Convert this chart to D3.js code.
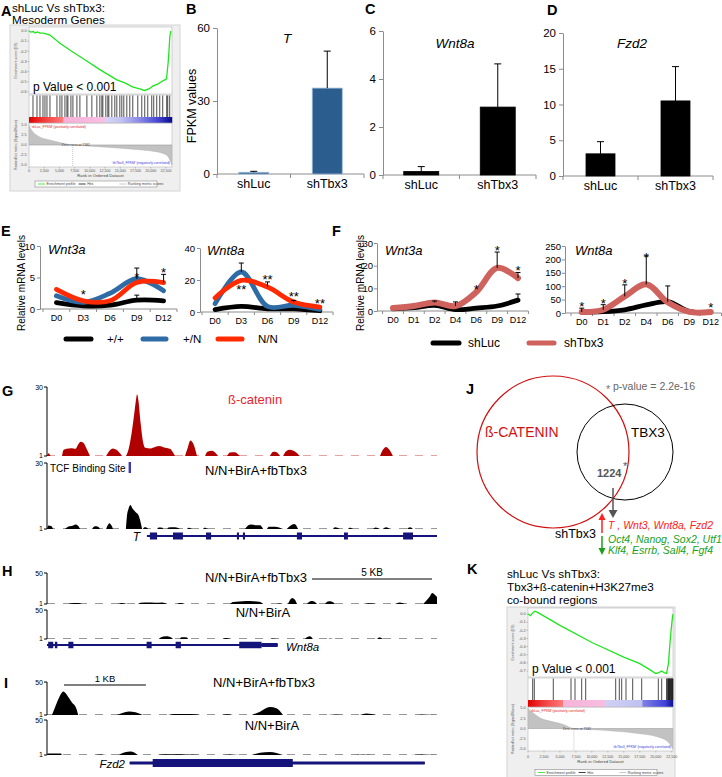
<!DOCTYPE html>
<html><head><meta charset="utf-8">
<script src="https://cdn.jsdelivr.net/npm/d3@7/dist/d3.min.js"></script>
<style>html,body{margin:0;padding:0;background:#fff;}svg{display:block;}</style>
</head><body>
<svg id="fig" width="722" height="777" xmlns="http://www.w3.org/2000/svg"></svg>
<script>
// ================= DATA =================
// A : GSEA shLuc vs shTbx3, mesoderm genes
const gseaAEsRank = [0,300,700,1000,1400,1800,2400,3440,5084,7000,8856,11644,14432,15744,17000,18200,19000,19700,20400,21200,22000,22600,22870,23000,23150,23300];
const gseaAEs     = [0,-0.01,-0.005,-0.02,-0.01,-0.02,-0.02,-0.04,-0.12,-0.2,-0.27,-0.38,-0.48,-0.51,-0.55,-0.57,-0.585,-0.57,-0.54,-0.52,-0.49,-0.47,-0.31,-0.2,-0.05,0];
const gseaAHits = [656,1312,1804,2296,2624,2952,3444,4592,5084,5412,5904,6232,6396,6888,7216,7872,8364,9512,10332,11152,11644,11972,12136,12628,12956,13120,13612,14104,14432,14924,15252,15580,16072,16564,17056,17876,18532,19024,19516,20172,20500,20992,21484,21976,22632,22796,23124];
const gseaAMetricRank = [0,250,650,1800,3450,5100,7182,10000,14900,18000,20500,22000,22800,23200,23500];
const gseaAMetric     = [5,4.2,3.3,2.0,1.25,0.6,0,-0.3,-0.8,-1.2,-1.6,-2.1,-2.8,-4,-5];
const gseaAColorRank = [0,2000,5600,5700,12400,12600,15000,18000,21000,23500];
const gseaAColor = ["#dd0000","#f03030","#ff7a7a","#f7b0d8","#f8c0e2","#d4d4f6","#c4c4f2","#8c8ce6","#4a4ad6","#0a0a8c"];
const gseaAEsTicks = [0,-0.1,-0.2,-0.3,-0.4,-0.5,-0.6];
// K : GSEA co-bound regions
const gseaKEsRank = [0,400,800,1100,1500,5000,10000,15000,17500,19000,20000,20500,20900,21300,21700,22000,22200,22400,22600,22700];
const gseaKEs     = [0,-0.02,0.02,0.035,0.02,-0.14,-0.35,-0.53,-0.61,-0.68,-0.73,-0.72,-0.7,-0.72,-0.73,-0.6,-0.38,-0.2,-0.05,0];
const gseaKHits = [736,986,3960,6732,7358,8407,9033,13730,14293,14669,15342,16391,17800,20399,20931,21700,21800,21917,22000,22073,22150,22230,22300,22386,22460,22543,22620,22690];
const gseaKMetricRank = [0,210,835,1880,3450,5530,7182,12300,17500,20150,21700,22300,22700];
const gseaKMetric     = [5,4.5,3.8,2.6,1.8,1.0,0,-0.5,-1.3,-2.0,-3.0,-4,-5];
const gseaKColorRank = [0,2500,5400,5500,12100,12300,17800,18000,21500,22700];
const gseaKColor = ["#e00000","#f04040","#ff7878","#f7b3da","#f7bde0","#d0d0f5","#c0c0f2","#8080e6","#4040d8","#101090"];
const gseaKEsTicks = [0,-0.1,-0.2,-0.3,-0.4,-0.5,-0.6,-0.7];
const gseaRankTicks = [0,2500,5000,7500,10000,12500,15000,17500,20000,22500];
const gseaMetricTicks = [5,2.5,0,-2.5,-5];
const gseaZeroCross = 7182;

// B-D : FPKM values
const barCategories = ["shLuc","shTbx3"];
const tFpkm = [0.7,35.3],      tFpkmErr = [0.4,15.2];
const wnt8aFpkm = [0.15,2.83], wnt8aFpkmErr = [0.2,1.8];
const fzd2Fpkm = [3.1,10.5],   fzd2FpkmErr = [1.7,4.8];
const tTicks = [0,30,60], wnt8aTicks = [0,2,4,6], fzd2Ticks = [0,5,10,15,20];

// E : relative mRNA, genotypes
const eDays = ["D0","D3","D6","D9","D12"];
const eGenotypes = ["+/+","+/N","N/N"];
const eWnt3a    = [[1.0,0.5,0.6,1.4,1.3],[2.1,1.05,2.5,4.8,2.9],[3.1,1.3,1.3,4.2,4.2]];
const eWnt3aErr = [[0,0,0,0.8,0],[0,0,0,1.7,0],[0,0,0,0,1.3]];
const eWnt3aStars = [["D3",2.7,"*"],["D9",5.4,"*"],["D12",6.2,"*"]];
const eWnt3aTicks = [0,5,10];
const eWnt8a    = [[1.5,3.5,2,2,0.8],[5.2,25,3.5,4.2,1.7],[8.8,19.8,15.6,6.2,3.1]];
const eWnt8aErr = [[0,0,0,0,0],[0,5.6,0,0,0],[0,0,3.2,1.1,0]];
const eWnt8aStars = [["D3",15.6,"**"],["D6",21.9,"**"],["D9",11.5,"**"],["D12",6.7,"**"]];
const eWnt8aTicks = [0,20,40];

// F : relative mRNA, knockdown
const fDays = ["D0","D1","D2","D4","D6","D9","D12"];
const fGroups = ["shLuc","shTbx3"];
const fWnt3a    = [[1,1.5,2.5,0.6,1.3,2.2,4.8],[1.3,2.2,3.8,2.2,8.4,19,14.5]];
const fWnt3aErr = [[0,0,0,0,0,0,2.7],[0,0,0.6,1.8,0,7,2.5]];
const fWnt3aStars = [["D6",10.6,"*"],["D9",27.8,"*"],["D12",19,"*"]];
const fWnt3aTicks = [0,10,20,30];
const fWnt8a    = [[3,5,12,30,42,6,2],[4,12,62,107,40,4,4]];
const fWnt8aErr = [[0,0,0,0,59,0,0],[14,19,43,106,0,0,0]];
const fWnt8aStars = [["D0",33,"*"],["D1",43,"*"],["D2",119,"*"],["D4",218,"*"],["D12",31,"*"]];
const fWnt8aTicks = [0,50,100,150,200,250];

// G : T locus (kb), ChIP-seq tracks
const gBetaCatPeaks = [
 [[0,1],[0.05,2.2],[0.12,1]],
 [[0.5,1],[0.55,3.5],[0.65,4],[0.8,4.3],[0.95,4],[1.05,6],[1.12,7],[1.22,6.5],[1.32,4],[1.43,1]],
 [[1.97,1],[2.07,3],[2.2,4.2],[2.32,3.6],[2.5,1]],
 [[2.63,1],[2.7,3],[2.8,9],[2.9,18],[2.97,25],[3.0,27],[3.05,24],[3.12,15],[3.2,7],[3.27,4.5],[3.45,4.2],[3.6,4.8],[3.75,5.2],[3.9,4.6],[4.1,4],[4.2,2.5],[4.27,1]],
 [[4.6,1],[4.68,4],[4.78,7.5],[4.88,6],[5.0,1]],
 [[5.27,1],[5.35,2.8],[5.5,3.2],[5.6,2.5],[5.7,1]],
 [[6.0,1],[6.1,2.5],[6.25,2.6],[6.43,1]],
 [[7.43,1],[7.55,2.8],[7.65,2.6],[7.77,1]],
 [[7.87,1],[7.97,3],[8.1,3.6],[8.25,3],[8.43,1]],
 [[11.1,1],[11.22,4],[11.3,4.8],[11.42,3.5],[11.53,1]]
];
const gTbx3Peaks = [
 [[0,1],[0.05,2.5],[0.15,2.2],[0.2,1]],
 [[0.6,1],[0.7,2],[0.85,2.4],[0.95,3],[1.05,2.2],[1.1,1]],
 [[1.5,1],[1.6,2.2],[1.7,2],[1.77,1]],
 [[1.97,1],[2.02,2.5],[2.08,3.5],[2.15,2.5],[2.2,1]],
 [[2.63,1],[2.66,6],[2.72,10],[2.78,11.5],[2.85,10],[2.95,8.5],[3.05,7],[3.12,4],[3.17,1]],
 [[3.2,1],[3.25,1.8],[3.33,1.6],[3.37,1]],
 [[3.67,1],[3.72,1.7],[3.85,1.6],[3.87,1]],
 [[4.0,1],[4.05,1.7],[4.2,1.8],[4.35,1.6],[4.43,1]],
 [[4.67,1],[4.72,1.5],[4.83,1]],
 [[5.2,1],[5.25,1.6],[5.37,1]],
 [[6.6,1],[6.7,2.5],[6.8,3],[6.95,2.7],[7.1,2.6],[7.2,1]],
 [[7.33,1],[7.4,2],[7.6,2],[7.87,1]],
 [[8.0,1],[8.1,2.3],[8.25,3.2],[8.37,1]],
 [[9.53,1],[9.6,1.8],[9.77,1]],
 [[10.03,1],[10.1,1.6],[10.2,1]],
 [[10.87,1],[10.95,1.7],[11.1,1]],
 [[11.2,1],[11.3,1.8],[11.43,1]],
 [[12.0,1],[12.1,1.8],[12.2,1]]
];
const gGeneSpan = [3.33,13];
const gGeneExons = [[3.43,3.67],[4.2,4.53],[5.3,5.47],[6.33,6.4],[6.53,6.6],[8.33,8.5],[9.9,10.03],[11.87,12.2]];
const gTcfSite = [2.72,2.8];
const gViewKb = 13;

// H : Wnt8a locus
const hTbx3Peaks = [
 [[0.88,1],[1.1,2.6],[1.3,2.4],[1.46,1]],
 [[2.96,1],[3.1,2.6],[3.33,1]],
 [[3.79,1],[3.9,3],[4.2,3.2],[4.5,3],[4.8,3.4],[5.0,1]],
 [[5.42,1],[5.55,2.4],[5.75,1]],
 [[7.63,1],[7.75,4],[8.0,5],[8.3,5.7],[8.6,5.5],[8.85,4.5],[9.0,1]],
 [[9.58,1],[9.7,2.2],[9.83,1]],
 [[10.04,1],[10.12,7],[10.22,10.5],[10.32,8],[10.42,1]],
 [[10.83,1],[10.95,5],[11.05,5.7],[11.15,4.5],[11.25,1]],
 [[11.58,1],[11.7,5],[11.8,5.5],[11.9,4],[12.0,1]],
 [[13.17,1],[13.4,2.2],[13.75,1]],
 [[14.5,1],[14.7,3.4],[14.92,1]],
 [[15.67,1],[15.8,6],[15.95,13],[16.05,18.4],[16.2,14],[16.25,12]]
];
const hBirAPeaks = [
 [[4.67,1],[4.75,4],[4.95,5.5],[5.1,5],[5.25,1]],
 [[5.54,1],[5.6,4],[5.8,4],[5.88,1]],
 [[7.33,1],[7.45,2.5],[7.63,1]],
 [[9.29,1],[9.4,2],[9.58,1]],
 [[10.75,1],[10.85,4.5],[10.95,5.5],[11.08,1]],
 [[11.71,1],[11.8,2],[11.92,1]],
 [[13.75,1],[13.85,3.4],[14.0,1]]
];
const hGeneSpan = [0,9.61];
const hGeneExons = [[0.05,0.26],[0.33,0.43],[0.89,1.1],[4.15,4.36],[5.36,5.58],[8.01,8.94]];
const hGeneUtr = [8.94,9.61];
const hViewKb = 16.25;
const hScaleKb = 5;

// I : Fzd2 locus
const iTbx3Peaks = [
 [[0.06,1],[0.09,10],[0.13,22],[0.18,34],[0.2,36],[0.23,33],[0.27,26],[0.31,19],[0.35,13],[0.37,6],[0.38,1]],
 [[0.85,1],[0.92,4],[1.0,6.2],[1.08,5],[1.17,1]],
 [[1.48,1],[1.55,2.5],[1.75,2.3],[1.87,1]],
 [[2.13,1],[2.2,2.2],[2.27,1]],
 [[2.5,1],[2.6,6],[2.72,12.9],[2.8,11],[2.88,1]],
 [[3.43,1],[3.5,1.8],[3.61,1]],
 [[3.82,1],[3.9,3.2],[4.02,1]],
 [[4.52,1],[4.6,1.7],[4.75,1]]
];
const iBirAPeaks = [
 [[0,1],[0.01,3],[0.17,3],[0.18,1]],
 [[0.59,1],[0.65,1.7],[0.73,1]],
 [[0.87,1],[0.95,5],[1.02,6],[1.11,1]],
 [[1.35,1],[1.45,2],[1.6,2],[1.87,1]],
 [[2.15,1],[2.25,1.7],[2.35,1]],
 [[2.5,1],[2.6,4],[2.72,5.2],[2.88,1]],
 [[3.76,1],[3.86,1.7],[3.96,1]],
 [[4.43,1],[4.6,1.7],[4.75,1]]
];
const iGeneSpan = [1.01,4.61];
const iGeneExon = [1.29,3.0];
const iViewKb = 4.76;
const iScaleKb = 1;

// J : overlap
const jOverlap = 1224;
const jPValue = "2.2e-16";
const jUpGenes = ["T ","Wnt3","Wnt8a","Fzd2"];
const jDownGenes1 = ["Oct4","Nanog","Sox2","Utf1"];
const jDownGenes2 = ["Klf4","Esrrb","Sall4","Fgf4"];

// ================= DRAWING =================
const FONT = "'Liberation Sans', Arial, Helvetica, sans-serif";
const svg = d3.select("#fig").attr("font-family", FONT);

function txt(x, y, s, o = {}) {
  const t = (o.g || svg).append("text").attr("x", x).attr("y", y).text(s)
    .attr("font-size", o.size || 12).attr("fill", o.fill || "#000")
    .attr("text-anchor", o.anchor || "start");
  if (o.italic) t.attr("font-style", "italic");
  if (o.bold) t.attr("font-weight", "bold");
  if (o.rotate) t.attr("transform", `rotate(-90 ${x} ${y})`);
  return t;
}

// ---- panel letters
[["A",1,16],["B",186,14],["C",365,14],["D",547,15],["E",1,236],["F",332,236],
 ["G",2,396],["H",2,576],["I",4,688],["J",466,394],["K",467,574]]
 .forEach(d => txt(d[1], d[2], d[0], {size: 14.5, bold: true}));

// ---- GSEA
function gsea(o, esRank, es, hits, mRank, mVal, cRank, cCol, esTicks) {
  const g = svg.append("g");
  const x = d3.scaleLinear().domain([0, o.maxRank]).range([o.x0, o.x1]);
  const yE = d3.scaleLinear().domain([0, esTicks[esTicks.length-1]]).range([o.es0, o.esLowY]);
  const yM = d3.scaleLinear().domain([-5, 5]).range([o.mLow, o.mHigh]);
  g.append("rect").attr("x", o.bx).attr("y", o.by).attr("width", o.bw).attr("height", o.bh)
    .attr("fill", "#efefef").attr("stroke", "#d4d4d4");
  g.append("rect").attr("x", o.x0).attr("y", o.esTop).attr("width", o.x1 - o.x0)
    .attr("height", o.mBottom - o.esTop).attr("fill", "#fff");
  const frame = (t, b) => g.append("rect").attr("x", o.x0).attr("y", t).attr("width", o.x1 - o.x0)
    .attr("height", b - t).attr("fill", "none").attr("stroke", "#b5b5b5").attr("stroke-width", 0.6);
  // ES
  frame(o.esTop, o.esBottom);
  esTicks.forEach(v => {
    g.append("line").attr("x1", o.x0 - 1.5).attr("x2", o.x0).attr("y1", yE(v)).attr("y2", yE(v)).attr("stroke", "#888").attr("stroke-width", 0.5);
    txt(o.x0 - 2.5, yE(v) + 1.3, v.toFixed(1), {g, size: 3.8, anchor: "end", fill: "#555"});
  });
  g.append("path").datum(d3.zip(esRank, es))
    .attr("d", d3.line().x(d => x(d[0])).y(d => yE(d[1])))
    .attr("fill", "none").attr("stroke", "#1ee61e").attr("stroke-width", 1.3);
  txt(o.bx + 6.5, (o.esTop + o.esBottom) / 2, "Enrichment score (ES)", {g, size: 3.6, anchor: "middle", rotate: true, fill: "#555"});
  // hits
  frame(o.hitsTop, o.cbBottom);
  g.selectAll("line.hit").data(hits).join("line").attr("class", "hit")
    .attr("x1", d => x(d)).attr("x2", d => x(d)).attr("y1", o.hitsTop + 0.5).attr("y2", o.cbTop)
    .attr("stroke", "#111").attr("stroke-width", 0.75);
  // colour bar
  const cs = d3.scaleLinear().domain(cRank).range(cCol);
  g.selectAll("rect.cb").data(d3.range(o.x0, o.x1, 1)).join("rect").attr("class", "cb")
    .attr("x", d => d).attr("width", 1.2).attr("y", o.cbTop).attr("height", o.cbBottom - o.cbTop)
    .attr("fill", d => cs(x.invert(d + 0.5)));
  // metric
  frame(o.mTop, o.mBottom);
  g.append("path").datum(d3.zip(mRank, mVal))
    .attr("d", d3.area().x(d => x(d[0])).y0(yM(0)).y1(d => yM(d[1])).curve(d3.curveMonotoneX))
    .attr("fill", "#c2c2c2").attr("stroke", "#a8a8a8").attr("stroke-width", 0.3);
  g.append("line").attr("x1", o.x0).attr("x2", o.x1).attr("y1", yM(0)).attr("y2", yM(0)).attr("stroke", "#999").attr("stroke-width", 0.4);
  g.append("line").attr("x1", x(gseaZeroCross)).attr("x2", x(gseaZeroCross)).attr("y1", yM(0)).attr("y2", o.mBottom)
    .attr("stroke", "#888").attr("stroke-width", 0.5).attr("stroke-dasharray", "1,1");
  txt(x(gseaZeroCross) + 3, yM(0) + 1.4, "Zero cross at " + gseaZeroCross, {g, size: 3.4, anchor: "middle", fill: "#444"});
  gseaMetricTicks.forEach(v => txt(o.x0 - 2.5, yM(v) + 1.3, v.toFixed(1), {g, size: 3.8, anchor: "end", fill: "#555"}));
  txt(o.x0 + 2, o.mTop + 5, "'shLuc_FPKM' (positively correlated)", {g, size: 3.4, fill: "#e02020"});
  txt(o.x1 - 2, o.mBottom - 3, "'shTbx3_FPKM' (negatively correlated)", {g, size: 3.4, fill: "#3a3ae0", anchor: "end"});
  txt(o.bx + 6.5, (o.mTop + o.mBottom) / 2, "Ranked list metric (Signal2Noise)", {g, size: 3.4, anchor: "middle", rotate: true, fill: "#555"});
  gseaRankTicks.forEach(v => {
    g.append("line").attr("x1", x(v)).attr("x2", x(v)).attr("y1", o.mBottom).attr("y2", o.mBottom + 1.5).attr("stroke", "#888").attr("stroke-width", 0.5);
    txt(x(v), o.xLabY, d3.format(",")(v), {g, size: 3.6, anchor: "middle", fill: "#555"});
  });
  txt((o.x0 + o.x1) / 2, o.xTitleY, "Rank in Ordered Dataset", {g, size: 4.2, anchor: "middle", fill: "#444"});
  // legend
  g.append("rect").attr("x", o.legX0).attr("y", o.legY).attr("width", o.legX1 - o.legX0).attr("height", 6)
    .attr("fill", "#fff").attr("stroke", "#777").attr("stroke-width", 0.5);
  const legItems = [["Enrichment profile", "#1ee61e"], ["Hits", "#111"], ["Ranking metric scores", "#bbb"]];
  const lw = (o.legX1 - o.legX0) / 3;
  legItems.forEach((it, i) => {
    const lx = o.legX0 + 3 + i * lw;
    g.append("line").attr("x1", lx).attr("x2", lx + 7).attr("y1", o.legY + 3).attr("y2", o.legY + 3).attr("stroke", it[1]).attr("stroke-width", 0.8);
    txt(lx + 8.5, o.legY + 4.3, it[0], {g, size: 3.6, fill: "#444"});
  });
  txt(o.x0 + 4, o.pY, "p Value < 0.001", {g, size: 12});
}

txt(12, 12, "shLuc Vs shTbx3:", {size: 11.7});
txt(12, 23.5, "Mesoderm Genes", {size: 11.7});
gsea({bx:10, by:25, bw:170, bh:166, x0:29, x1:172, maxRank:23500, es0:31, esLowY:92, esTop:27, esBottom:94,
      hitsTop:95, cbTop:117, cbBottom:123, mTop:123, mHigh:125, mLow:165, mBottom:167,
      xLabY:171.5, xTitleY:176.5, legX0:35, legX1:157, legY:181, pY:91},
     gseaAEsRank, gseaAEs, gseaAHits, gseaAMetricRank, gseaAMetric, gseaAColorRank, gseaAColor, gseaAEsTicks);

txt(507, 578, "shLuc Vs shTbx3:", {size: 11.7});
txt(507, 591, "Tbx3+ß-catenin+H3K27me3", {size: 11.7});
txt(507, 603.5, "co-bound regions", {size: 11.7});
gsea({bx:507, by:607, bw:168, bh:175, x0:528, x1:673, maxRank:22700, es0:614, esLowY:671, esTop:608, esBottom:677,
      hitsTop:678, cbTop:700, cbBottom:707, mTop:707, mHigh:708, mLow:749, mBottom:751,
      xLabY:757.5, xTitleY:763, legX0:535, legX1:657, legY:769.5, pY:673},
     gseaKEsRank, gseaKEs, gseaKHits, gseaKMetricRank, gseaKMetric, gseaKColorRank, gseaKColor, gseaKEsTicks);

// ---- bar charts
function barChart(o, values, errs, ticks, title) {
  const g = svg.append("g");
  const x = d3.scalePoint().domain(barCategories).range([o.x0, o.x1]).padding(0.5);
  const y = d3.scaleLinear().domain([0, d3.max(ticks)]).range([o.yBase, o.yTop]);
  const ax = g.append("g").attr("transform", `translate(${o.x0},0)`)
    .call(d3.axisLeft(y).tickValues(ticks).tickFormat(d3.format("d")).tickSize(4).tickSizeOuter(0).tickPadding(3));
  ax.attr("font-family", FONT).attr("font-size", 11.5);
  ax.selectAll("path,line").attr("stroke", "#8c8c8c");
  ax.selectAll("text").attr("fill", "#000");
  g.append("line").attr("x1", o.x0).attr("x2", o.x1).attr("y1", o.yBase).attr("y2", o.yBase).attr("stroke", "#8c8c8c");
  const bounds = [o.x0].concat(barCategories.map(c => x(c) + x.step() / 2));
  g.selectAll("line.xt").data(bounds).join("line").attr("x1", d => d).attr("x2", d => d)
    .attr("y1", o.yBase).attr("y2", o.yBase + 4).attr("stroke", "#8c8c8c");
  g.selectAll("rect.bar").data(values).join("rect")
    .attr("x", (d, i) => x(barCategories[i]) - o.bw / 2).attr("width", o.bw)
    .attr("y", d => y(d)).attr("height", d => o.yBase - y(d))
    .attr("fill", o.fill).attr("stroke", o.stroke).attr("stroke-width", 0.8);
  values.forEach((v, i) => {
    const cx = x(barCategories[i]);
    g.append("line").attr("x1", cx).attr("x2", cx).attr("y1", y(v)).attr("y2", y(v + errs[i])).attr("stroke", "#000").attr("stroke-width", 1);
    g.append("line").attr("x1", cx - 3.5).attr("x2", cx + 3.5).attr("y1", y(v + errs[i])).attr("y2", y(v + errs[i])).attr("stroke", "#000").attr("stroke-width", 1);
  });
  barCategories.forEach(c => txt(x(c), o.yBase + 14, c, {g, size: 12.5, anchor: "middle"}));
  txt(o.titleX, o.titleY, title, {g, size: 13.5, italic: true, anchor: "middle"});
}
barChart({x0:217, x1:364, yBase:174, yTop:28, bw:30, fill:"#2b5d8e", stroke:"#9bbad8", titleX:287, titleY:43}, tFpkm, tFpkmErr, tTicks, "T");
txt(196, 106, "FPKM values", {size: 12.5, anchor: "middle", rotate: true});
barChart({x0:383, x1:536, yBase:175, yTop:31, bw:35, fill:"#000", stroke:"#000", titleX:455, titleY:48}, wnt8aFpkm, wnt8aFpkmErr, wnt8aTicks, "Wnt8a");
barChart({x0:563, x1:713, yBase:176, yTop:33, bw:29, fill:"#000", stroke:"#000", titleX:632, titleY:48}, fzd2Fpkm, fzd2FpkmErr, fzd2Ticks, "Fzd2");

// ---- line charts
function lineChart(o, days, series, errs, colors, widths, ticks, stars, title) {
  const g = svg.append("g");
  const x = d3.scalePoint().domain(days).range([o.x0, o.x1]).padding(0.5);
  const y = d3.scaleLinear().domain([0, d3.max(ticks)]).range([o.yBase, o.yTop]);
  const ax = g.append("g").attr("transform", `translate(${o.ax},0)`)
    .call(d3.axisLeft(y).tickValues(ticks).tickFormat(d3.format("d")).tickSize(3).tickSizeOuter(0).tickPadding(o.pad));
  ax.attr("font-family", FONT).attr("font-size", 9.5);
  ax.selectAll("path,line").attr("stroke", "#8c8c8c");
  ax.selectAll("text").attr("fill", "#000");
  g.append("line").attr("x1", o.ax).attr("x2", o.x1).attr("y1", o.yBase).attr("y2", o.yBase).attr("stroke", "#8c8c8c");
  const bounds = days.map(d => x(d) - x.step() / 2).concat([o.x1]);
  g.selectAll("line.xt").data(bounds).join("line").attr("x1", d => d).attr("x2", d => d)
    .attr("y1", o.yBase).attr("y2", o.yBase + 3).attr("stroke", "#8c8c8c");
  days.forEach(d => txt(x(d), o.yBase + 12, d, {g, size: 9, anchor: "middle"}));
  const line = d3.line().x((d, i) => x(days[i])).y(d => y(d)).curve(d3.curveCatmullRom.alpha(0.5));
  series.forEach((s, k) => g.append("path").attr("d", line(s)).attr("fill", "none")
    .attr("stroke", colors[k]).attr("stroke-width", widths[k]).attr("stroke-linecap", "round"));
  series.forEach((s, k) => s.forEach((v, i) => {
    const e = errs[k][i]; if (!e) return;
    const cx = x(days[i]);
    g.append("line").attr("x1", cx).attr("x2", cx).attr("y1", y(v)).attr("y2", y(v + e)).attr("stroke", "#000").attr("stroke-width", 1);
    g.append("line").attr("x1", cx - 2.5).attr("x2", cx + 2.5).attr("y1", y(v + e)).attr("y2", y(v + e)).attr("stroke", "#000").attr("stroke-width", 1);
  }));
  stars.forEach(s => txt(x(s[0]), y(s[1]) + 7, s[2], {g, size: 13, anchor: "middle"}));
  txt(o.titleX, o.titleY, title, {g, size: 13, italic: true});
}
const eColors = ["#000000", "#2f6ca6", "#ff2a00"];
lineChart({ax:40, x0:43, x1:177, yBase:309, yTop:246, pad:2, titleX:48, titleY:254}, eDays, eWnt3a, eWnt3aErr, eColors, [4.8,4.8,4.8], eWnt3aTicks, eWnt3aStars, "Wnt3a");
lineChart({ax:200, x0:202, x1:333, yBase:312, yTop:248, pad:2, titleX:207, titleY:255}, eDays, eWnt8a, eWnt8aErr, eColors, [4.8,4.8,4.8], eWnt8aTicks, eWnt8aStars, "Wnt8a");
txt(25, 283, "Relative mRNA levels", {size: 10, anchor: "middle", rotate: true});
const fColors = ["#000000", "#cf625d"];
lineChart({ax:377, x0:382.6, x1:528.4, yBase:311, yTop:243, pad:1, titleX:385, titleY:255}, fDays, fWnt3a, fWnt3aErr, fColors, [4.8,6], fWnt3aTicks, fWnt3aStars, "Wnt3a");
lineChart({ax:565, x0:571, x1:721.5, yBase:313, yTop:246, pad:1, titleX:575, titleY:255}, fDays, fWnt8a, fWnt8aErr, fColors, [4.8,6], fWnt8aTicks, fWnt8aStars, "Wnt8a");
txt(364, 283, "Relative mRNA levels", {size: 10, anchor: "middle", rotate: true});

// legends E / F
function legend(items, colors, y, xs, txs, size) {
  items.forEach((name, i) => {
    svg.append("line").attr("x1", xs[i][0]).attr("x2", xs[i][1]).attr("y1", y).attr("y2", y)
      .attr("stroke", colors[i]).attr("stroke-width", 5).attr("stroke-linecap", "round");
    txt(txs[i], y + 4, name, {size});
  });
}
legend(eGenotypes, eColors, 339, [[66,91],[143,166],[218,242]], [107,183,258], 11.5);
legend(fGroups, fColors, 343, [[433,459],[529,554]], [468,564], 12);

// ---- genome tracks
function drawTrack(xs, base, top, maxV, peaks, fill, dashColor) {
  const y = d3.scaleLinear().domain([1, maxV]).range([base, top]);
  const [a, b] = xs.range();
  svg.append("line").attr("x1", a).attr("x2", b).attr("y1", base - 0.5).attr("y2", base - 0.5)
    .attr("stroke", dashColor).attr("stroke-width", 1).attr("stroke-dasharray", "8,8");
  const area = d3.area().x(d => xs(d[0])).y0(base).y1(d => y(d[1])).curve(d3.curveMonotoneX);
  svg.append("g").selectAll("path").data(peaks).join("path").attr("d", area).attr("fill", fill);
  svg.append("path").attr("d", `M${a - 3},${y(maxV)}H${a}V${y(1)}H${a - 3}`)
    .attr("fill", "none").attr("stroke", "#000").attr("stroke-width", 1);
  txt(a - 4, y(maxV) + 3, String(maxV), {size: 7, anchor: "end"});
  txt(a - 4, y(1) + 1.5, "1", {size: 7, anchor: "end"});
}
function drawGene(xs, yc, span, exons, h, color) {
  svg.append("line").attr("x1", xs(span[0])).attr("x2", xs(span[1])).attr("y1", yc).attr("y2", yc)
    .attr("stroke", color).attr("stroke-width", 1.8);
  svg.append("g").selectAll("rect").data(exons).join("rect")
    .attr("x", d => xs(d[0])).attr("width", d => Math.max(1.5, xs(d[1]) - xs(d[0])))
    .attr("y", yc - h / 2).attr("height", h).attr("fill", color);
}
const NAVY = "#14147a";
// G
const xG = d3.scaleLinear().domain([0, gViewKb]).range([47, 437]);
drawTrack(xG, 456, 387, 30, gBetaCatPeaks, "#b00000", "#e6a0a0");
drawTrack(xG, 529, 463, 30, gTbx3Peaks, "#000", "#999");
txt(228, 404, "ß-catenin", {size: 13, fill: "#e8262b"});
txt(50, 471.5, "TCF Binding Site", {size: 10});
svg.append("rect").attr("x", xG(gTcfSite[0])).attr("width", xG(gTcfSite[1]) - xG(gTcfSite[0]))
  .attr("y", 462).attr("height", 11).attr("fill", "#3a3aa8");
txt(205, 475, "N/N+BirA+fbTbx3", {size: 13});
drawGene(xG, 536, gGeneSpan, gGeneExons, 7, NAVY);
txt(140, 541, "T", {size: 12, italic: true, anchor: "end"});
// H
const xH = d3.scaleLinear().domain([0, hViewKb]).range([47, 437]);
drawTrack(xH, 604, 573, 50, hTbx3Peaks, "#000", "#999");
drawTrack(xH, 639, 610, 50, hBirAPeaks, "#000", "#999");
txt(205, 582, "N/N+BirA+fbTbx3", {size: 13});
txt(263, 617, "N/N+BirA", {size: 13, anchor: "middle"});
svg.append("line").attr("x1", xH(hViewKb) - (xH(hScaleKb) - xH(0)) - 5).attr("x2", xH(hViewKb) - 5)
  .attr("y1", 579).attr("y2", 579).attr("stroke", "#000").attr("stroke-width", 1);
txt(xH(hViewKb) - 5 - (xH(hScaleKb) - xH(0)) / 2, 576, hScaleKb + " KB", {size: 10, anchor: "middle"});
drawGene(xH, 645, hGeneSpan, hGeneExons, 6.5, NAVY);
svg.append("rect").attr("x", xH(hGeneUtr[0])).attr("width", xH(hGeneUtr[1]) - xH(hGeneUtr[0]))
  .attr("y", 645 - 2).attr("height", 4).attr("fill", NAVY);
txt(286, 651, "Wnt8a", {size: 11.5, italic: true});
// I
const xI = d3.scaleLinear().domain([0, iViewKb]).range([47, 437]);
drawTrack(xI, 715, 682, 50, iTbx3Peaks, "#000", "#999");
drawTrack(xI, 755, 720, 50, iBirAPeaks, "#000", "#999");
svg.append("line").attr("x1", 64).attr("x2", 64 + xI(iScaleKb) - xI(0)).attr("y1", 685).attr("y2", 685).attr("stroke", "#000").attr("stroke-width", 1);
txt(64 + (xI(iScaleKb) - xI(0)) / 2, 682, iScaleKb + " KB", {size: 9.5, anchor: "middle"});
txt(264, 687, "N/N+BirA+fbTbx3", {size: 13, anchor: "middle"});
txt(272, 730, "N/N+BirA", {size: 13, anchor: "middle"});
drawGene(xI, 763, iGeneSpan, [], 0, NAVY);
svg.append("rect").attr("x", xI(iGeneSpan[0])).attr("width", xI(iGeneSpan[1]) - xI(iGeneSpan[0]))
  .attr("y", 761.5).attr("height", 3).attr("fill", NAVY);
svg.append("rect").attr("x", xI(iGeneExon[0])).attr("width", xI(iGeneExon[1]) - xI(iGeneExon[0]))
  .attr("y", 759).attr("height", 8).attr("fill", NAVY);
txt(125, 768, "Fzd2", {size: 11.5, italic: true, anchor: "end"});

// ---- J : Venn
svg.append("circle").attr("cx", 553).attr("cy", 452).attr("r", 76).attr("fill", "none").attr("stroke", "#d01010").attr("stroke-width", 1.2);
svg.append("circle").attr("cx", 625).attr("cy", 452).attr("r", 48).attr("fill", "none").attr("stroke", "#000").attr("stroke-width", 1);
txt(485, 437, "ß-CATENIN", {size: 14, fill: "#d01010"});
txt(631, 437, "TBX3", {size: 13.5});
txt(597, 477, String(jOverlap), {size: 11, bold: true, fill: "#555"});
txt(623, 470, "*", {size: 11, fill: "#555"});
txt(606, 393, "*", {size: 11, fill: "#777"});
txt(613, 390, "p-value = " + jPValue, {size: 10.5, fill: "#666"});
svg.append("line").attr("x1", 613).attr("x2", 613).attr("y1", 488).attr("y2", 512).attr("stroke", "#555").attr("stroke-width", 1.5);
svg.append("path").attr("d", "M608.5,510L617.5,510L613,518Z").attr("fill", "#555");
svg.append("line").attr("x1", 602).attr("x2", 602).attr("y1", 533).attr("y2", 518).attr("stroke", "#ff2020").attr("stroke-width", 1.5);
svg.append("path").attr("d", "M598.5,520L605.5,520L602,513Z").attr("fill", "#ff2020");
svg.append("line").attr("x1", 602).attr("x2", 602).attr("y1", 536).attr("y2", 550).attr("stroke", "#1aa01a").attr("stroke-width", 1.5);
svg.append("path").attr("d", "M598.5,548L605.5,548L602,555Z").attr("fill", "#1aa01a");
txt(555, 538, "shTbx3", {size: 12.5});
txt(608, 529, jUpGenes.join(", "), {size: 10.5, italic: true, fill: "#ff2020"});
txt(608, 542.5, jDownGenes1.join(", "), {size: 10.5, italic: true, fill: "#1aa01a"});
txt(608, 554, jDownGenes2.join(", "), {size: 10.5, italic: true, fill: "#1aa01a"});
</script>
</body></html>
